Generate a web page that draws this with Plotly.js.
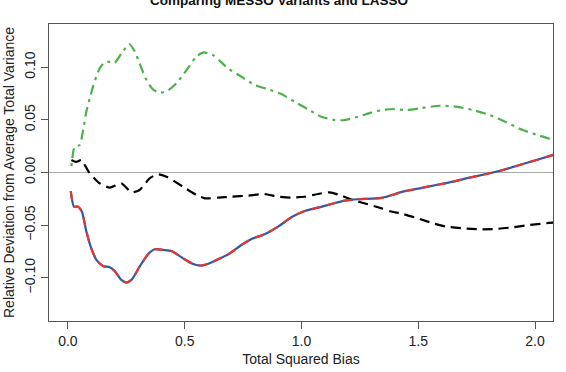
<!DOCTYPE html>
<html>
<head>
<meta charset="utf-8">
<script src="https://cdn.plot.ly/plotly-3.0.1.min.js"></script>
<style>
  html, body { margin: 0; padding: 0; background: #ffffff; }
  #chart { width: 566px; height: 372px; }
</style>
</head>
<body>
<div id="chart"></div>
<script>
// Total squared bias (x) vs relative deviation from average total variance (y)

// MESSO variant, dash-dot green curve
const greenX = [0.015, 0.029, 0.05, 0.065, 0.079, 0.093, 0.108, 0.136, 0.158, 0.179, 0.200, 0.229, 0.263,
  0.286, 0.307, 0.336, 0.364, 0.393, 0.429, 0.464, 0.507, 0.55, 0.581, 0.621, 0.65, 0.685, 0.743, 0.80,
  0.857, 0.914, 0.971, 1.028, 1.085, 1.142, 1.185, 1.242, 1.299, 1.349, 1.392, 1.449, 1.506, 1.592, 1.663,
  1.734, 1.806, 1.877, 1.948, 2.02, 2.08];
const greenY = [0.006, 0.0245, 0.026, 0.040, 0.058, 0.070, 0.082, 0.099, 0.1045, 0.105, 0.104, 0.113, 0.122,
  0.115, 0.1036, 0.0878, 0.079, 0.0757, 0.078, 0.0846, 0.097, 0.110, 0.114, 0.1115, 0.106, 0.0989, 0.0909, 0.083,
  0.079, 0.0745, 0.0672, 0.060, 0.053, 0.0498, 0.0498, 0.053, 0.0568, 0.0595, 0.0603, 0.0593, 0.0609, 0.0634, 0.0625,
  0.0593, 0.0546, 0.0476, 0.0403, 0.0349, 0.031];

// LASSO, black dashed curve
const blackX = [0.015, 0.035, 0.058, 0.075, 0.093, 0.115, 0.136, 0.179, 0.229, 0.272, 0.307, 0.350, 0.386,
  0.422, 0.493, 0.55, 0.586, 0.643, 0.70, 0.771, 0.842, 0.90, 0.957, 1.014, 1.071, 1.121, 1.171, 1.228,
  1.285, 1.342, 1.380, 1.435, 1.506, 1.563, 1.62, 1.691, 1.763, 1.834, 1.905, 1.977, 2.048, 2.08];
const blackY = [0.0119, 0.010, 0.0119, 0.006, -0.0008, -0.006, -0.0103, -0.0144, -0.0103, -0.0188, -0.0166,
  -0.0055, -0.0017, -0.004, -0.0135, -0.0213, -0.0245, -0.0239, -0.023, -0.022, -0.0204, -0.023, -0.0239,
  -0.023, -0.0204, -0.0188, -0.022, -0.0267, -0.0302, -0.034, -0.0368, -0.0394, -0.0441, -0.0482, -0.0514,
  -0.053, -0.0539, -0.0536, -0.052, -0.0498, -0.0482, -0.0476];

// Two further MESSO variants, nearly identical (blue solid under red dashed)
const blueX = [0.012, 0.026, 0.043, 0.06, 0.079, 0.10, 0.122, 0.150, 0.179, 0.20, 0.229, 0.250, 0.272, 0.307,
  0.343, 0.372, 0.407, 0.443, 0.493, 0.536, 0.571, 0.607, 0.643, 0.686, 0.743, 0.786, 0.842, 0.90, 0.957,
  1.014, 1.071, 1.128, 1.185, 1.242, 1.299, 1.349, 1.435, 1.506, 1.577, 1.649, 1.72, 1.792, 1.863, 1.934,
  2.006, 2.08];
const blueY = [-0.0176, -0.0324, -0.0324, -0.0372, -0.0561, -0.072, -0.083, -0.0887, -0.090, -0.0935, -0.102,
  -0.1045, -0.102, -0.0894, -0.0776, -0.0729, -0.0735, -0.0745, -0.0815, -0.0868, -0.0884, -0.0862, -0.0824,
  -0.0777, -0.0688, -0.0631, -0.0587, -0.0514, -0.0425, -0.0365, -0.0334, -0.0299, -0.0267, -0.0254, -0.0249,
  -0.0239, -0.0182, -0.015, -0.0119, -0.0087, -0.0049, -0.0014, 0.0024, 0.0071, 0.0119, 0.0168];
const redX = [0.012, 0.026, 0.043, 0.06, 0.079, 0.10, 0.122, 0.150, 0.179, 0.20, 0.229, 0.250, 0.272, 0.307,
  0.343, 0.372, 0.407, 0.443, 0.493, 0.536, 0.571, 0.607, 0.643, 0.686, 0.743, 0.786, 0.842, 0.90, 0.957,
  1.014, 1.071, 1.128, 1.185, 1.242, 1.299, 1.349, 1.435, 1.506, 1.577, 1.649, 1.72, 1.792, 1.863, 1.934,
  2.006, 2.08];
const redY = [-0.0176, -0.0324, -0.0324, -0.0372, -0.0561, -0.072, -0.083, -0.0887, -0.090, -0.0935, -0.102,
  -0.1045, -0.102, -0.0894, -0.0776, -0.0729, -0.0735, -0.0745, -0.0815, -0.0868, -0.0884, -0.0862, -0.0824,
  -0.0777, -0.0688, -0.0631, -0.0587, -0.0514, -0.0425, -0.0365, -0.0334, -0.0299, -0.0267, -0.0254, -0.0249,
  -0.0239, -0.0182, -0.015, -0.0119, -0.0087, -0.0049, -0.0014, 0.0024, 0.0071, 0.0119, 0.0168];

// Axis ticks
const xTickVals = [0, 0.5, 1, 1.5, 2];
const xTickText = ["0.0", "0.5", "1.0", "1.5", "2.0"];
const yTickVals = [-0.10, -0.05, 0, 0.05, 0.10];
const yTickText = ["\u22120.10", "\u22120.05", "0.00", "0.05", "0.10"];

const FONT = "Liberation Sans, Arial, Helvetica, sans-serif";
const LW = 2.2;

const traces = [
  { x: greenX, y: greenY, mode: "lines", name: "MESSO (green)",
    line: { color: "#4DB04A", width: LW, dash: "3px,5px,10px,5px", shape: "spline", smoothing: 0.6 } },
  { x: blackX, y: blackY, mode: "lines", name: "LASSO",
    line: { color: "#000000", width: LW, dash: "10px,6px", shape: "spline", smoothing: 0.6 } },
  { x: blueX, y: blueY, mode: "lines", name: "MESSO (blue)",
    line: { color: "#2F58A8", width: LW, shape: "spline", smoothing: 0.6 } },
  { x: redX, y: redY, mode: "lines", name: "MESSO (red)",
    line: { color: "#E2382F", width: LW, dash: "9px,7px", shape: "spline", smoothing: 0.6 } }
];

const axisCommon = {
  showgrid: false,
  showline: true,
  mirror: true,
  linecolor: "#555555",
  linewidth: 1,
  ticks: "outside",
  ticklen: 7,
  tickwidth: 1,
  tickcolor: "#555555",
  tickfont: { family: FONT, size: 14, color: "#222222" }
};

const layout = {
  width: 566,
  height: 372,
  margin: { l: 49, r: 13, t: 24, b: 51, pad: 0 },
  paper_bgcolor: "#ffffff",
  plot_bgcolor: "#ffffff",
  showlegend: false,
  title: {
    text: "<b>Comparing MESSO Variants and LASSO</b>",
    font: { family: FONT, size: 13.5, color: "#111111" },
    xref: "container", x: 0.493, xanchor: "center",
    yref: "container", y: 1, yanchor: "middle"
  },
  xaxis: Object.assign({}, axisCommon, {
    range: [-0.081, 2.077],
    zeroline: false,
    tickvals: xTickVals,
    ticktext: xTickText,
    title: { text: "Total Squared Bias", font: { family: FONT, size: 14, color: "#222222" }, standoff: 6 }
  }),
  yaxis: Object.assign({}, axisCommon, {
    range: [-0.141, 0.141],
    zeroline: true,
    zerolinecolor: "#AAAAAA",
    zerolinewidth: 1.5,
    tickvals: yTickVals,
    ticktext: yTickText,
    tickangle: -90,
    title: { text: "Relative Deviation from Average Total Variance", font: { family: FONT, size: 14, color: "#222222" }, standoff: 4 }
  })
};

Plotly.newPlot("chart", traces, layout, { displayModeBar: false, staticPlot: true });
</script>
</body>
</html>
